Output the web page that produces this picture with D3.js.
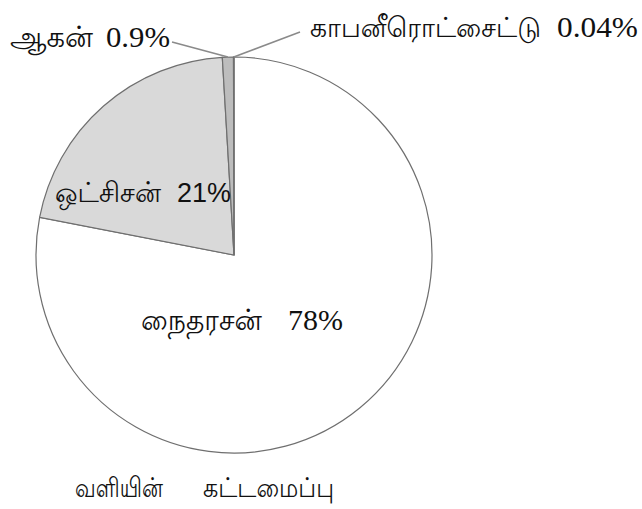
<!DOCTYPE html>
<html>
<head>
<meta charset="utf-8">
<script src="https://cdn.jsdelivr.net/npm/d3@7"></script>
<style>
  html, body { margin: 0; padding: 0; background: #fff; }
  svg { display: block; }
</style>
</head>
<body>
<svg id="chart" width="642" height="509"></svg>
<script>
// Composition of air (percent by volume)
const gases = ["நைதரசன்", "ஒட்சிசன்", "ஆகன்", "காபனீரொட்சைட்டு"];
const percents = [78, 21, 0.9, 0.04];
const percentLabels = ["78%", "21%", "0.9%", "0.04%"];
const fills = ["#ffffff", "#d9d9d9", "#bdbdbd", "#9e9e9e"];
const titleWords = ["வளியின்", "கட்டமைப்பு"];

const SERIF = "Liberation Serif";
const SANS = "Liberation Sans";
const TAMIL = "Lohit Tamil";

const svg = d3.select("#chart");
const cx = 234, cy = 255, R = 198;

const pie = d3.pie().sort(null).value(d => d)(percents);
const arc = d3.arc().innerRadius(0).outerRadius(R);

const g = svg.append("g").attr("transform", `translate(${cx},${cy})`);

g.selectAll("path.slice")
  .data(pie)
  .join("path")
  .attr("class", "slice")
  .attr("d", arc)
  .attr("fill", (d, i) => fills[i])
  .attr("stroke", "#6f6f6f")
  .attr("stroke-width", 1.2);

// point on the rim at a slice's mid angle
function rimPoint(d) {
  const a = (d.startAngle + d.endAngle) / 2;
  return [cx + R * Math.sin(a), cy - R * Math.cos(a)];
}

// leader lines for the two thin slices
const leaders = [
  { i: 2, to: [172, 42] },
  { i: 3, to: [300, 32] }
];
svg.selectAll("line.leader")
  .data(leaders)
  .join("line")
  .attr("class", "leader")
  .attr("x1", d => rimPoint(pie[d.i])[0])
  .attr("y1", d => rimPoint(pie[d.i])[1])
  .attr("x2", d => d.to[0])
  .attr("y2", d => d.to[1])
  .attr("stroke", "#8a8a8a")
  .attr("stroke-width", 1.5);

// slice labels: Tamil name and value as separate text runs
const labels = [
  { i: 2, nx: 10,  nw: 83,  vx: 106, vw: 64, y: 47,  size: 29, nsize: 29, numFont: SERIF },
  { i: 3, nx: 310, nw: 231, vx: 557, vw: 81, y: 37,  size: 30, nsize: 28, numFont: SERIF },
  { i: 1, nx: 55,  nw: 106, vx: 177, vw: 54, y: 202, size: 27, nsize: 28, numFont: SANS },
  { i: 0, nx: 141, nw: 121, vx: 288, vw: 55, y: 330, size: 30, nsize: 29, numFont: SERIF }
];

const lab = svg.selectAll("g.label").data(labels).join("g").attr("class", "label");
lab.append("text")
  .attr("x", d => d.nx).attr("y", d => d.y)
  .attr("font-family", TAMIL)
  .attr("font-size", d => d.nsize)
  .attr("textLength", d => d.nw)
  .attr("lengthAdjust", "spacingAndGlyphs")
  .attr("fill", "#111")
  .text(d => gases[d.i]);
lab.append("text")
  .attr("x", d => d.vx).attr("y", d => d.y)
  .attr("font-family", d => d.numFont)
  .attr("font-size", d => d.size)
  .attr("textLength", d => d.vw)
  .attr("lengthAdjust", "spacingAndGlyphs")
  .attr("fill", "#111")
  .text(d => percentLabels[d.i]);

// chart title, two words
const titleSpots = [{ x: 75, w: 88 }, { x: 203, w: 131 }];
svg.selectAll("text.title")
  .data(titleWords)
  .join("text")
  .attr("class", "title")
  .attr("x", (d, i) => titleSpots[i].x)
  .attr("y", 497)
  .attr("font-family", TAMIL)
  .attr("font-size", 27)
  .attr("textLength", (d, i) => titleSpots[i].w)
  .attr("lengthAdjust", "spacingAndGlyphs")
  .attr("fill", "#111")
  .text(d => d);
</script>
</body>
</html>
